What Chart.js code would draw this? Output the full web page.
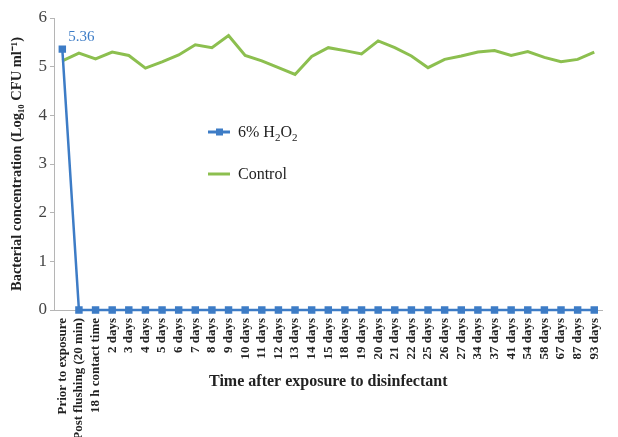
<!DOCTYPE html>
<html>
<head>
<meta charset="utf-8">
<script src="https://cdn.jsdelivr.net/npm/chart.js@4.4.0/dist/chart.umd.min.js"></script>
<style>
  html, body { margin: 0; padding: 0; background: #fff; }
  #wrap { width: 618px; height: 437px; }
</style>
</head>
<body>
<div id="wrap"><canvas id="chart" width="618" height="437"></canvas></div>
<script>
const timePoints = [
  "Prior to exposure", "Post flushing (20 min)", "18 h contact time",
  "2 days", "3 days", "4 days", "5 days", "6 days", "7 days", "8 days", "9 days",
  "10 days", "11 days", "12 days", "13 days", "14 days", "15 days", "18 days",
  "19 days", "20 days", "21 days", "22 days", "25 days", "26 days", "27 days",
  "34 days", "37 days", "41 days", "54 days", "58 days", "67 days", "87 days", "93 days"
];
const peroxideValues = [
  5.36, 0, 0, 0, 0, 0, 0, 0, 0, 0, 0, 0, 0, 0, 0, 0, 0,
  0, 0, 0, 0, 0, 0, 0, 0, 0, 0, 0, 0, 0, 0, 0, 0
];
const controlValues = [
  5.12, 5.28, 5.16, 5.30, 5.23, 4.97, 5.10, 5.24, 5.45, 5.39, 5.64,
  5.23, 5.12, 4.98, 4.84, 5.21, 5.39, 5.33, 5.26, 5.53, 5.39, 5.22,
  4.98, 5.15, 5.22, 5.30, 5.33, 5.23, 5.31, 5.19, 5.10, 5.15, 5.30
];
const yTicks = [0, 1, 2, 3, 4, 5, 6];

const blue = "#3d7cc6";
const green = "#8cbf4f";
const serif = "'Liberation Serif', 'Times New Roman', serif";

// legend and the 5.36 label drawn inside the plot area
const extrasPlugin = {
  id: "extras",
  afterDatasetsDraw(chart) {
    const ctx = chart.ctx;
    const pt = chart.getDatasetMeta(0).data[0];
    ctx.save();
    ctx.fillStyle = blue;
    ctx.font = "15px " + serif;
    ctx.textBaseline = "middle";
    ctx.textAlign = "left";
    ctx.fillText(peroxideValues[0].toFixed(2), pt.x + 6, pt.y - 12);

    // legend
    const lx = 208, ly1 = 132, ly2 = 174;
    ctx.lineWidth = 3;
    ctx.strokeStyle = blue;
    ctx.beginPath(); ctx.moveTo(lx, ly1); ctx.lineTo(lx + 22, ly1); ctx.stroke();
    ctx.fillStyle = blue;
    ctx.fillRect(lx + 8, ly1 - 3.5, 7, 7);
    ctx.strokeStyle = green;
    ctx.beginPath(); ctx.moveTo(lx, ly2); ctx.lineTo(lx + 22, ly2); ctx.stroke();

    ctx.fillStyle = "#222";
    ctx.textBaseline = "alphabetic";
    let x = lx + 30;
    const parts = [["6% H", 0], ["2", 1], ["O", 0], ["2", 1]];
    parts.forEach(([t, sub]) => {
      ctx.font = (sub ? "11px " : "16px ") + serif;
      ctx.fillText(t, x, ly1 + 5 + (sub ? 4 : 0));
      x += ctx.measureText(t).width;
    });
    ctx.font = "16px " + serif;
    ctx.fillText("Control", lx + 30, ly2 + 5);
    ctx.restore();
  }
};

new Chart(document.getElementById("chart").getContext("2d"), {
  type: "line",
  data: {
    labels: timePoints,
    datasets: [
      {
        label: "6% H2O2",
        data: peroxideValues,
        borderColor: blue,
        backgroundColor: blue,
        borderWidth: 2.5,
        pointStyle: "rect",
        pointRadius: 3.5,
        pointHoverRadius: 3.5,
        clip: false,
        tension: 0
      },
      {
        label: "Control",
        data: controlValues,
        borderColor: green,
        backgroundColor: green,
        borderWidth: 3,
        pointRadius: 0,
        clip: false,
        tension: 0
      }
    ]
  },
  options: {
    responsive: false,
    animation: false,
    layout: { padding: { top: 18, right: 9, left: 0, bottom: 0 } },
    plugins: {
      legend: { display: false },
      tooltip: { enabled: false }
    },
    scales: {
      x: {
        offset: true,
        grid: { display: false, drawTicks: false },
        border: { color: "#b5b5b5", width: 1 },
        ticks: {
          autoSkip: false,
          maxRotation: 90,
          minRotation: 90,
          padding: 8,
          color: "#222",
          font: { family: serif, size: 13, weight: "bold" }
        },
        title: {
          display: true,
          text: "Time after exposure to disinfectant",
          color: "#222",
          font: { family: serif, size: 16, weight: "bold" },
          padding: { top: 0, bottom: 46 }
        },
        afterFit(scale) { scale.height = 127; }
      },
      y: {
        min: 0,
        max: 6,
        afterBuildTicks(scale) { scale.ticks = yTicks.map(v => ({ value: v })); },
        grid: { drawOnChartArea: false, tickLength: 4, color: "#b5b5b5" },
        border: { color: "#b5b5b5", width: 1 },
        ticks: {
          padding: 3,
          color: "#444",
          font: { family: serif, size: 17 }
        },
        title: {
          display: true,
          text: "Bacterial concentration (Log\u2081\u2080 CFU ml\u207B\u00B9)",
          color: "#222",
          font: { family: serif, size: 14.5, weight: "bold" },
          padding: { top: 9, bottom: 0 }
        },
        afterFit(scale) { scale.width = 54; }
      }
    }
  },
  plugins: [extrasPlugin]
});
</script>
</body>
</html>
